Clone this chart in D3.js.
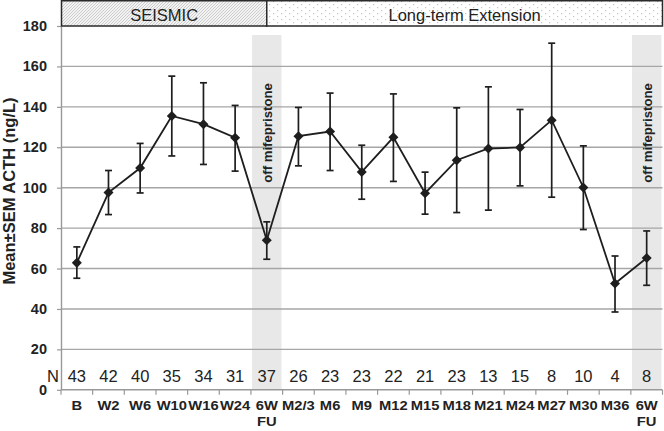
<!DOCTYPE html>
<html><head><meta charset="utf-8">
<script src="https://cdn.jsdelivr.net/npm/d3@7"></script>
<style>body{margin:0;background:#fff}svg{display:block;font-family:"Liberation Sans",Arial,sans-serif}</style>
</head><body>
<script>
const categories = ["B","W2","W6","W10","W16","W24","6W\nFU","M2/3","M6","M9","M12","M15","M18","M21","M24","M27","M30","M36","6W\nFU"];
const means =  [62.8, 97.6, 109.7, 135.5, 131.4, 124.7, 74.0, 125.5, 127.8, 107.8, 124.9, 97.3, 113.6, 119.4, 119.9, 133.4, 100.1, 52.6, 65.2];
const upper =  [70.7, 108.5, 121.9, 155.2, 151.9, 140.7, 83.1, 139.7, 146.8, 121.0, 146.4, 107.7, 139.5, 149.9, 138.7, 171.5, 120.7, 66.2, 78.6];
const lower =  [55.2, 86.7, 97.4, 115.7, 111.5, 108.2, 64.6, 110.8, 108.5, 94.3, 103.1, 86.9, 87.7, 88.9, 100.9, 95.3, 79.3, 38.5, 51.7];
const nValues = [43,42,40,35,34,31,37,26,23,23,22,21,23,13,15,8,10,4,8];
const yTicks = [0,20,40,60,80,100,120,140,160,180];
const offIdx = [6, 18];
const phases = [{label:"SEISMIC", pat:"hatch"}, {label:"Long-term Extension", pat:"dots"}];

const W = 664, H = 431;
const mLeft = 61, mRight = 662.5, mTop = 26, mBottom = 389.8;
const svg = d3.select("body").append("svg").attr("width", W).attr("height", H);

const idx = d3.range(categories.length);
const x = d3.scaleBand().domain(idx).range([mLeft, mRight]).padding(0);
const y = d3.scaleLinear().domain([0,180]).range([mBottom, mTop]);
const cx = i => x(i) + x.bandwidth()/2;

// patterns
const defs = svg.append("defs");
const ph = defs.append("pattern").attr("id","hatch").attr("patternUnits","userSpaceOnUse").attr("width",3).attr("height",3);
ph.append("rect").attr("width",3).attr("height",3).attr("fill","#f2f2f2");
ph.append("path").attr("d","M-1,1 l2,-2 M0,3 l3,-3 M2,4 l2,-2").attr("stroke","#bdbdbd").attr("stroke-width",0.7);
const pd = defs.append("pattern").attr("id","dots").attr("patternUnits","userSpaceOnUse").attr("width",8).attr("height",6);
pd.append("rect").attr("width",8).attr("height",6).attr("fill","#fff");
pd.append("rect").attr("x",1).attr("y",1).attr("width",1.2).attr("height",1.2).attr("fill","#c4c4c4");
pd.append("rect").attr("x",5).attr("y",4).attr("width",1.2).attr("height",1.2).attr("fill","#c4c4c4");

// grey off-mifepristone bands
svg.selectAll("rect.band").data(offIdx).join("rect").attr("class","band")
  .attr("x", i => cx(i) - 14.7).attr("width", 29.4)
  .attr("y", 35).attr("height", mBottom - 35)
  .attr("fill", "#e8e8e8");

// gridlines
svg.selectAll("line.grid").data(yTicks.filter(t => t > 0 && t < 180)).join("line").attr("class","grid")
  .attr("x1", mLeft).attr("x2", mRight).attr("y1", d => y(d)).attr("y2", d => y(d))
  .attr("stroke", "#a6a6a6").attr("stroke-width", 1.4);

// y axis
const yAxis = svg.append("g").attr("transform", `translate(${mLeft},0)`)
  .call(d3.axisLeft(y).tickValues(yTicks).tickSize(4).tickSizeOuter(0).tickFormat(""));
yAxis.select(".domain").attr("stroke","#999").attr("stroke-width",1.4);
yAxis.selectAll(".tick line").attr("stroke","#999").attr("stroke-width",1.2);
svg.selectAll("text.ytick").data(yTicks).join("text").attr("class","ytick")
  .attr("x", 47).attr("y", d => y(d) + 5)
  .attr("text-anchor","end").attr("font-size", 14.5).attr("font-weight","bold").attr("fill","#222")
  .text(d => d);

// x axis
svg.append("line").attr("x1", mLeft).attr("x2", mRight).attr("y1", mBottom).attr("y2", mBottom)
  .attr("stroke","#999").attr("stroke-width",1.4);
svg.selectAll("line.xtick").data(d3.range(categories.length + 1)).join("line").attr("class","xtick")
  .attr("x1", i => i < categories.length ? x(i) : mRight).attr("x2", i => i < categories.length ? x(i) : mRight)
  .attr("y1", mBottom).attr("y2", mBottom + 5)
  .attr("stroke","#999").attr("stroke-width",1.2);
const xl = svg.selectAll("g.xlab").data(idx).join("g").attr("class","xlab")
  .attr("transform", i => `translate(${cx(i)},0) scale(1.18,1)`);
xl.each(function(i){
  const lines = categories[i].split("\n");
  const t = d3.select(this).append("text")
    .attr("text-anchor","middle").attr("font-size", 12.5).attr("font-weight","bold").attr("fill","#222");
  lines.forEach((ln, k) => t.append("tspan").attr("x", 0).attr("y", 410.5 + k*15.2).text(ln));
});

// N row
svg.append("text").attr("x", 53).attr("y", 381.5).attr("text-anchor","middle")
  .attr("font-size", 16.5).attr("fill","#222").text("N");
svg.selectAll("text.nval").data(idx).join("text").attr("class","nval")
  .attr("x", i => cx(i)).attr("y", 381.5).attr("text-anchor","middle")
  .attr("font-size", 16.5).attr("fill","#222").text(i => nValues[i]);

// header boxes
const bounds = [[mLeft + 0.5, cx(6)], [cx(6), mRight]];
const hb = svg.selectAll("g.phase").data(phases).join("g").attr("class","phase");
hb.append("rect")
  .attr("x", (d,k) => bounds[k][0]).attr("width", (d,k) => bounds[k][1] - bounds[k][0])
  .attr("y", 0.75).attr("height", mTop - 0.75)
  .attr("fill", d => `url(#${d.pat})`).attr("stroke","#2a2a2a").attr("stroke-width",1.5);
hb.append("text")
  .attr("x", (d,k) => (bounds[k][0] + bounds[k][1]) / 2)
  .attr("y", 20.7).attr("text-anchor","middle").attr("font-size", 16.5).attr("fill","#222")
  .text(d => d.label);

// error bars
const eb = svg.selectAll("g.err").data(idx).join("g").attr("class","err")
  .attr("stroke","#1e1e1e").attr("stroke-width",1.7);
eb.append("line").attr("x1", cx).attr("x2", cx).attr("y1", i => y(upper[i])).attr("y2", i => y(lower[i]));
eb.append("line").attr("x1", i => cx(i) - 3.5).attr("x2", i => cx(i) + 3.5).attr("y1", i => y(upper[i])).attr("y2", i => y(upper[i]));
eb.append("line").attr("x1", i => cx(i) - 3.5).attr("x2", i => cx(i) + 3.5).attr("y1", i => y(lower[i])).attr("y2", i => y(lower[i]));

// line
const line = d3.line().x(i => cx(i)).y(i => y(means[i]));
svg.append("path").datum(idx).attr("d", line).attr("fill","none").attr("stroke","#1e1e1e").attr("stroke-width",1.8);

// markers
svg.selectAll("path.mk").data(idx).join("path").attr("class","mk")
  .attr("transform", i => `translate(${cx(i)},${y(means[i])})`)
  .attr("d", d3.symbol(d3.symbolDiamond2, 64))
  .attr("fill","#1e1e1e");

// off mifepristone labels
svg.selectAll("text.off").data(offIdx).join("text").attr("class","off")
  .attr("transform", i => `translate(${cx(i) + 5},133) rotate(-90)`)
  .attr("text-anchor","middle").attr("font-size", 13.2).attr("font-weight","bold").attr("fill","#222")
  .text("off mifepristone");

// y title
svg.append("text").attr("transform","translate(14.5,191) rotate(-90)")
  .attr("text-anchor","middle").attr("font-size", 16.5).attr("font-weight","bold").attr("fill","#222")
  .text("Mean±SEM ACTH (ng/L)");
</script>
</body></html>
